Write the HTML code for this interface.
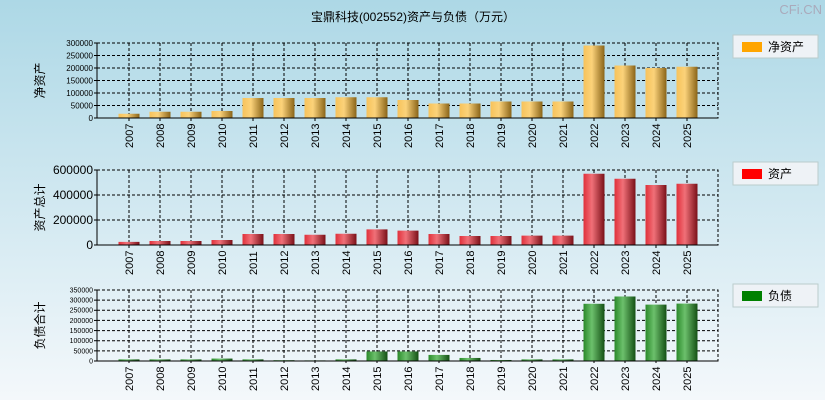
<!DOCTYPE html>
<html><head><meta charset="utf-8"><style>
body{margin:0;width:825px;height:400px;overflow:hidden;font-family:"Liberation Sans","Noto Sans CJK SC",sans-serif}
svg{display:block}
</style></head><body>
<svg id="c" width="825" height="400" xmlns="http://www.w3.org/2000/svg">
<defs>
<linearGradient id="bg" x1="0" y1="0" x2="0" y2="1"><stop offset="0" stop-color="#add8e6"/><stop offset="1" stop-color="#f4f8fb"/></linearGradient>
<linearGradient id="g0" x1="0" x2="1"><stop offset="0" stop-color="#f7c25a"/><stop offset="0.4" stop-color="#fbd27a"/><stop offset="1" stop-color="#8a6418"/></linearGradient>
<linearGradient id="g1" x1="0" x2="1"><stop offset="0" stop-color="#e0303a"/><stop offset="0.4" stop-color="#f07078"/><stop offset="1" stop-color="#7a1018"/></linearGradient>
<linearGradient id="g2" x1="0" x2="1"><stop offset="0" stop-color="#2a8a2a"/><stop offset="0.4" stop-color="#6cc06c"/><stop offset="1" stop-color="#145014"/></linearGradient>
</defs>
<rect width="825" height="400" fill="url(#bg)"/>
<text x="413" y="21" font-size="12" text-anchor="middle">宝鼎科技(002552)资产与负债（万元）</text>
<text x="822" y="14" font-size="13" text-anchor="end" fill="#aab">CFi.CN</text>
<g id="plots"></g>
</svg>
<script>
const years=["2007","2008","2009","2010","2011","2012","2013","2014","2015","2016","2017","2018","2019","2020","2021","2022","2023","2024","2025"];
const equity=[17000,25000,25000,28000,80000,80000,80000,83000,83000,72000,58000,58000,66000,66000,66000,290000,210000,200000,205000];
const assets=[25000,32000,32000,40000,88000,88000,82000,90000,125000,115000,88000,72000,72000,75000,75000,570000,530000,480000,490000];
const liabilities=[8000,8000,8000,12000,8000,4000,3000,8000,47000,47000,30000,15000,5000,8000,8000,282000,318000,278000,283000];
const ticks0=[0,50000,100000,150000,200000,250000,300000];
const ticks1=[0,200000,400000,600000];
const ticks2=[0,50000,100000,150000,200000,250000,300000,350000];
const ns="http://www.w3.org/2000/svg";
const root=document.getElementById('plots');
function mk(t,a,p){const e=document.createElementNS(ns,t);for(const k in a)e.setAttribute(k,a[k]);(p||root).appendChild(e);return e;}
const panels=[
{top:43,bot:118,max:300000,ticks:ticks0,vals:equity,fill:"url(#g0)",fs:8,ylab:"净资产",leg:"净资产",lc:"#ffa500",ly:35,name:"equity"},
{top:170,bot:245,max:600000,ticks:ticks1,vals:assets,fill:"url(#g1)",fs:12,ylab:"资产总计",leg:"资产",lc:"#ff0000",ly:162,name:"assets"},
{top:290,bot:361,max:350000,ticks:ticks2,vals:liabilities,fill:"url(#g2)",fs:7,ylab:"负债合计",leg:"负债",lc:"#008000",ly:284,name:"liabilities"}];
const L=97,R=718,x0=129,dx=31,bw=21;
panels.forEach(p=>{
 const g=mk('g',{});
 
 
 const y=v=>p.bot-(v/p.max)*(p.bot-p.top);
 const x=i=>x0+i*dx;
 p.ticks.forEach(t=>{
  if(t>0){const l=mk('line',{x1:L,x2:R,y1:y(t),y2:y(t),stroke:'#000','stroke-dasharray':'3,2','stroke-width':1},g);
  }
  const tx=mk('text',{x:L-4,y:y(t)+p.fs*0.35,'font-size':p.fs,'text-anchor':'end'},g);tx.textContent=t;
  
  mk('line',{x1:L-3,x2:L,y1:y(t),y2:y(t),stroke:'#000'},g);
 });
 years.forEach((yr,i)=>{
  const l=mk('line',{x1:x(i),x2:x(i),y1:p.top,y2:p.bot+3,stroke:'#000','stroke-dasharray':'3,2'},g);
  
  const b=mk('rect',{x:x(i)-bw/2,y:y(p.vals[i]),width:bw,height:p.bot-y(p.vals[i]),fill:p.fill},g);
  
  const t=mk('text',{x:0,y:0,'font-size':11,transform:`translate(${x(i)+4},${p.bot+30}) rotate(-90)`},g);t.textContent=yr;
  
 });
 mk('rect',{x:L,y:p.top,width:R-L,height:p.bot-p.top,fill:'none',stroke:'#000','stroke-dasharray':'3,2'},g);
 mk('line',{x1:L,x2:L,y1:p.top,y2:p.bot,stroke:'#000'},g);
 mk('line',{x1:L,x2:R,y1:p.bot,y2:p.bot,stroke:'#000'},g);
 const yl=mk('text',{x:0,y:0,'font-size':12,'text-anchor':'middle',transform:`translate(44,${(p.top+p.bot)/2}) rotate(-90)`},g);yl.textContent=p.ylab;
 
 const lg=mk('g',{},g);
 
 mk('rect',{x:733,y:p.ly,width:85,height:23,fill:'#eef2f6',stroke:'#bcc'},lg);
 mk('rect',{x:742,y:p.ly+7,width:20,height:10,fill:p.lc},lg);
 const lt=mk('text',{x:768,y:p.ly+16,'font-size':12},lg);lt.textContent=p.leg;
});
</script>
</body></html>
